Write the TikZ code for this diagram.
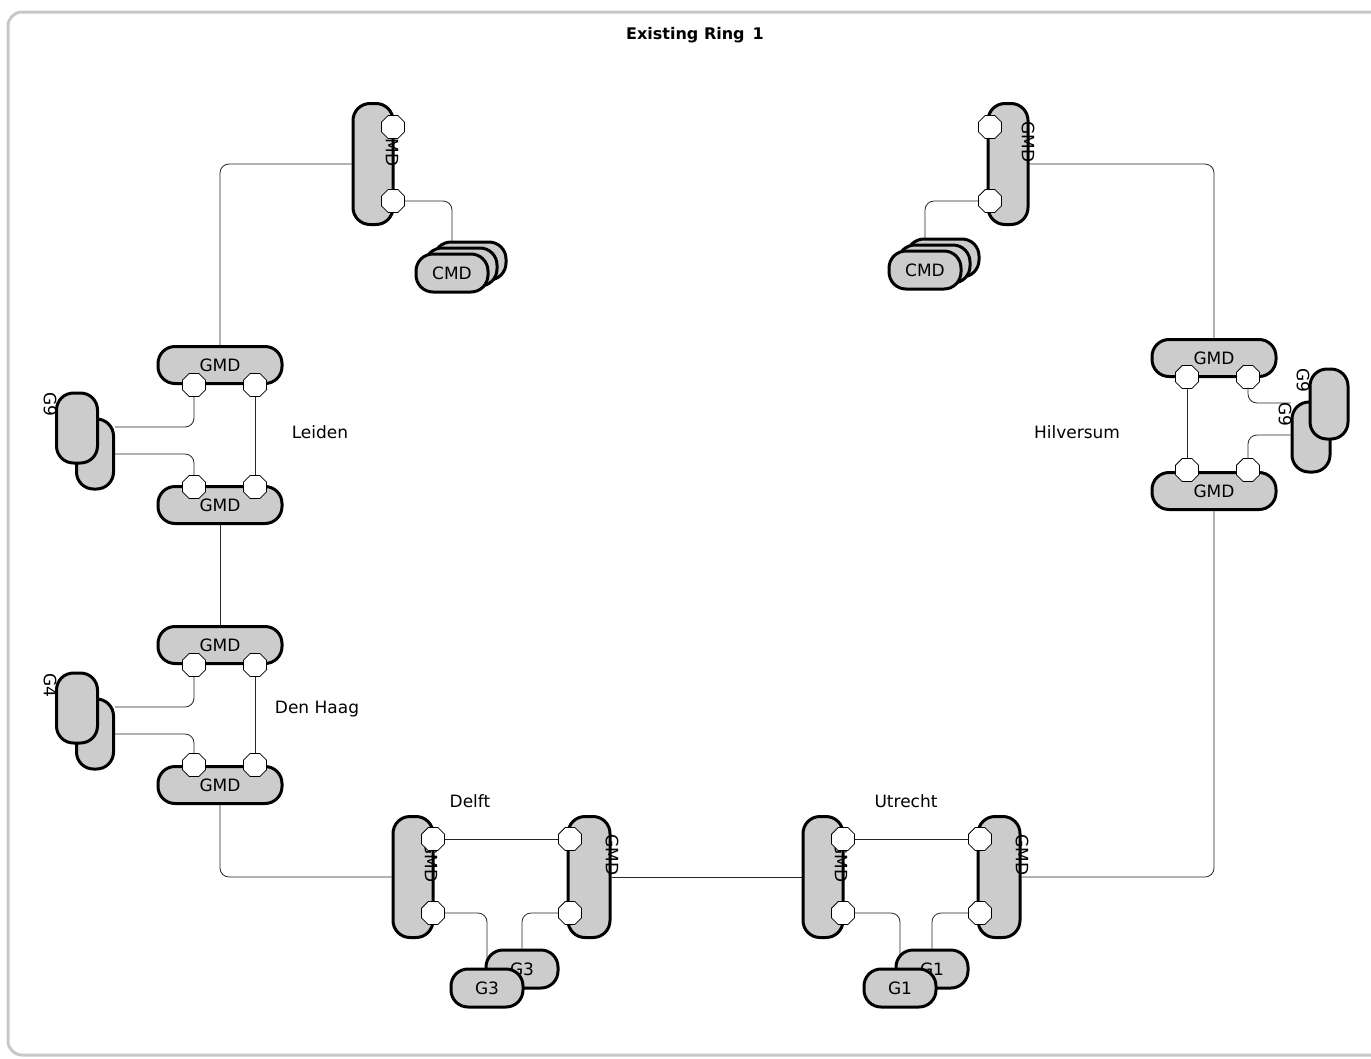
\documentclass[tikz,border=0pt]{standalone}
\usepackage{fontspec}
\setmainfont{DejaVu Sans}
\usetikzlibrary{shapes.geometric,backgrounds}
\definecolor{pillgray}{RGB}{204,204,204}
\definecolor{framegray}{RGB}{200,200,200}

\begin{document}
\begin{tikzpicture}[x=1pt,y=-1pt,wire/.style={draw=black!85,line width=0.8pt,rounded corners=9pt}]
\tikzstyle{pill}=[draw,line width=3pt,fill=pillgray,rounded corners=17pt,inner sep=0pt,font=\fontsize{17}{19}\selectfont]
\tikzstyle{hpill}=[pill,minimum width=124pt,minimum height=37pt]
\tikzstyle{vpill}=[pill,minimum width=40pt,minimum height=121pt]
\tikzstyle{gpill}=[pill,minimum width=38pt,minimum height=70pt]
\tikzstyle{spill}=[pill,minimum width=72pt,minimum height=38pt]
\tikzstyle{port}=[draw,fill=white,line width=0.8pt,regular polygon,regular polygon sides=8,minimum size=25pt,inner sep=0pt]
\tikzstyle{vtext}=[rotate=-90,font=\fontsize{17}{19}\selectfont,inner sep=0pt]
\tikzstyle{place}=[font=\fontsize{17}{19}\selectfont]

\useasboundingbox (0,0) rectangle (1371,1058);
\draw[framegray,line width=3pt,rounded corners=14pt] (8,12) rectangle (1390,1055);
\node[font=\bfseries\fontsize{16}{19}\selectfont] (title) at (695,35) {Existing Ring\enspace 1};

% top left
\node[vpill] (gmdA) at (373,164) {};
\node[vtext] (gmdAt) at (392,146) {GMD};
\node[port] (pA1) at (393,127) {};
\node[port] (pA2) at (393,201) {};
\node[spill] (cmdA3) at (470,261) {};
\node[spill] (cmdA2) at (461,267) {};
\node[spill] (cmdA1) at (452,273) {CMD};

% top right
\node[vpill] (gmdB) at (1008,164) {};
\node[vtext] (gmdBt) at (1028,142) {GMD};
\node[port] (pB1) at (990,127) {};
\node[port] (pB2) at (990,201) {};
\node[spill] (cmdB3) at (943,258) {};
\node[spill] (cmdB2) at (934,264) {};
\node[spill] (cmdB1) at (925,270) {CMD};

% Leiden
\node[hpill] (gmdC) at (220,365) {GMD};
\node[hpill] (gmdD) at (220,505) {GMD};
\node[port] (pC1) at (194,385) {};
\node[port] (pC2) at (255,385) {};
\node[port] (pD1) at (194,487) {};
\node[port] (pD2) at (255,487) {};
\node[gpill,minimum width=37pt] (gC2) at (95,454) {};
\node[gpill,minimum width=41pt] (gC1) at (77,428) {};
\node[vtext] (gC1t) at (50,404) {G9};
\node[place] (leiden) at (320,432) {Leiden};

% Den Haag
\node[hpill] (gmdE) at (220,645) {GMD};
\node[hpill] (gmdF) at (220,785) {GMD};
\node[port] (pE1) at (194,665) {};
\node[port] (pE2) at (255,665) {};
\node[port] (pF1) at (194,765) {};
\node[port] (pF2) at (255,765) {};
\node[gpill,minimum width=37pt] (gE2) at (95,734) {};
\node[gpill,minimum width=41pt] (gE1) at (77,708) {};
\node[vtext] (gE1t) at (50,685) {G4};
\node[place] (denhaag) at (317,709) {Den Haag};

% Delft
\node[vpill] (gmdG) at (413,877) {};
\node[vtext] (gmdGt) at (431,862) {GMD};
\node[vpill,minimum width=42pt] (gmdH) at (589,877) {};
\node[vtext] (gmdHt) at (612,855) {GMD};
\node[port] (pG1) at (433,839) {};
\node[port] (pG2) at (433,913) {};
\node[port] (pH1) at (570,839) {};
\node[port] (pH2) at (570,913) {};
\node[spill] (gG2) at (522,969) {G3};
\node[spill] (gG1) at (487,988) {G3};
\node[place] (delft) at (470,801) {Delft};

% Utrecht
\node[vpill] (gmdJ) at (823,877) {};
\node[vtext] (gmdJt) at (841,862) {GMD};
\node[vpill,minimum width=42pt] (gmdK) at (999,877) {};
\node[vtext] (gmdKt) at (1022,855) {GMD};
\node[port] (pJ1) at (843,839) {};
\node[port] (pJ2) at (843,913) {};
\node[port] (pK1) at (980,839) {};
\node[port] (pK2) at (980,913) {};
\node[spill] (gJ2) at (932,969) {G1};
\node[spill] (gJ1) at (900,988) {G1};
\node[place] (utrecht) at (906,801) {Utrecht};

% Hilversum
\node[hpill] (gmdL) at (1214,358) {GMD};
\node[hpill] (gmdM) at (1214,491) {GMD};
\node[port] (pL1) at (1187,377) {};
\node[port] (pL2) at (1248,377) {};
\node[port] (pM1) at (1187,470) {};
\node[port] (pM2) at (1248,470) {};
\node[gpill] (gL2) at (1311,437) {};
\node[vtext] (gL2t) at (1285,414) {G9};
\node[gpill] (gL1) at (1329,404) {};
\node[vtext] (gL1t) at (1303,380) {G9};
\node[place] (hilversum) at (1077,432) {Hilversum};

\begin{pgfonlayer}{background}
% ring
\draw[wire] (gmdA.west) -| (gmdC.north);
\draw[wire] (gmdD) -- (gmdE);
\draw[wire] (gmdF.south) |- (gmdG.west);
\draw[wire] (gmdH) -- (gmdJ);
\draw[wire] (gmdK.east) -| (gmdM.south);
\draw[wire] (gmdL.north) |- (gmdB.east);
% local links
\draw[wire] (pA2) -| (cmdA1.north);
\draw[wire] (pB2) -| (cmdB1.north);
\draw[wire] (pC1) |- ([yshift=27pt]gC2.east);
\draw[wire] (pD1) |- (gC2.east);
\draw[wire] (pC2) -- (pD2);
\draw[wire] (pE1) |- ([yshift=27pt]gE2.east);
\draw[wire] (pF1) |- (gE2.east);
\draw[wire] (pE2) -- (pF2);
\draw[wire] (pG1) -- (pH1);
\draw[wire] (pG2) -| (gG1.north);
\draw[wire] (pH2) -| (gG2.north);
\draw[wire] (pJ1) -- (pK1);
\draw[wire] (pJ2) -| (gJ1.north);
\draw[wire] (pK2) -| (gJ2.north);
\draw[wire] (pL1) -- (pM1);
\draw[wire] (pL2) |- ([yshift=34pt]gL2.west);
\draw[wire] (pM2) |- ([yshift=2pt]gL2.west);
\end{pgfonlayer}
\end{tikzpicture}
\end{document}
